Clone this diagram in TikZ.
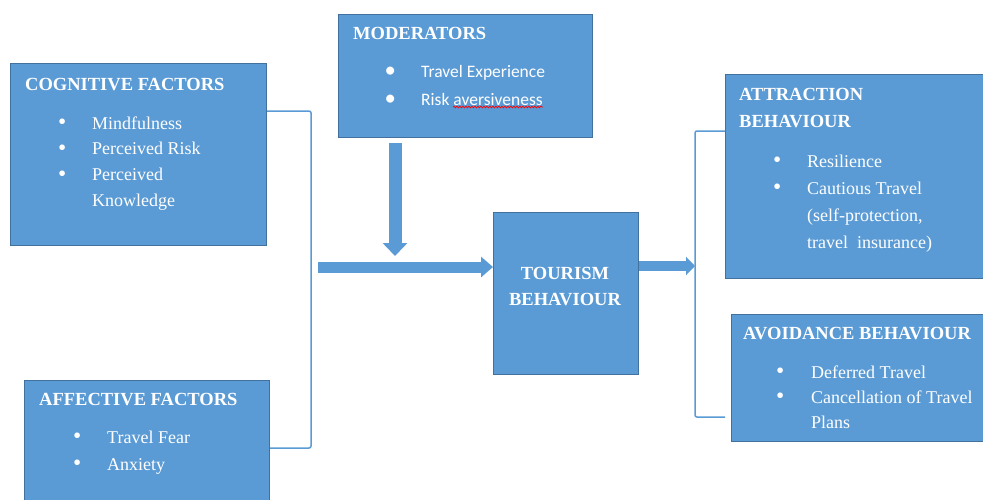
\documentclass[tikz,border=0pt]{standalone}
\usepackage{fontspec}
\setmainfont{Liberation Serif}
\newfontfamily\modfont{Carlito}
\usetikzlibrary{arrows.meta,decorations.pathmorphing}
\definecolor{boxblue}{HTML}{5B9BD5}
\definecolor{boxline}{HTML}{41719C}
\newcommand\bul{\makebox[0pt]{\raisebox{-0.1ex}{\scalebox{1.3}{\textbullet}}}}
\tikzset{
  box/.style={draw=boxline, fill=boxblue, line width=1pt, anchor=north west, inner sep=0pt},
  title/.style={anchor=base west, inner sep=0pt, text=white, font=\fontsize{18.5}{27}\selectfont\bfseries},
  items/.style={anchor=base west, inner sep=0pt, text=white, font=\fontsize{18}{26}\selectfont},
  bracket/.style={draw=boxblue, line width=1.5pt, rounded corners=2pt},
  flow/.style={draw=boxblue, line width=11pt, -{Triangle[width=20pt,length=12pt]}},
}

\begin{document}
\begin{tikzpicture}[x=1pt,y=-1pt]
			%%%%% START %%%%%
			\clip (0,0) rectangle (983,499);
			\fill[white] (0,0) rectangle (983,499);
			
			% boxes
			\node[box, minimum width=256, minimum height=182] (cog) at (10,63) {};
			\node[box, minimum width=254, minimum height=123] (mod) at (338,14) {};
			\node[box, minimum width=245, minimum height=140] (aff) at (24,380) {};
			\node[box, minimum width=145, minimum height=162] (tour) at (493,212) {};
			\node[box, minimum width=280, minimum height=204] (att) at (725,74) {};
			\node[box, minimum width=280, minimum height=127] (avo) at (731,314) {};
			
			% texts
			\node[title] (cogT) at (25,90) {COGNITIVE FACTORS};
			\node[items, font=\fontsize{18}{25.7}\selectfont] (cogL) at (62,129) {\begin{tabular}[t]{@{}p{30pt}@{}l@{}}
				\bul & Mindfulness\\ \bul & Perceived Risk\\ \bul & Perceived\\ & Knowledge\end{tabular}};
			
			\node[title] (modT) at (353,39) {MODERATORS};
			\node[items, font=\fontsize{17.5}{28}\selectfont\modfont] (modL) at (390,77) {\begin{tabular}[t]{@{}p{31pt}@{}l@{}}
				\bul & Travel Experience\\ \bul & Risk aversiveness\end{tabular}};
			\draw[red, line width=0.7pt, decorate, decoration={snake, amplitude=0.9pt, segment length=3pt}] (453,107) -- (543,107);
			
			\node[title] (affT) at (39,405) {AFFECTIVE FACTORS};
			\node[items, font=\fontsize{18}{27}\selectfont] (affL) at (77,443) {\begin{tabular}[t]{@{}p{30pt}@{}l@{}}
				\bul & Travel Fear\\ \bul & Anxiety\end{tabular}};
			
			\node[title, anchor=base] (tourT) at (565,279) {\begin{tabular}[t]{@{}c@{}}TOURISM\\[-1pt] BEHAVIOUR\end{tabular}};
			
			\node[title] (attT) at (739,100) {\begin{tabular}[t]{@{}l@{}}ATTRACTION\\ BEHAVIOUR\end{tabular}};
			\node[items, font=\fontsize{18}{27}\selectfont] (attL) at (777,167) {\begin{tabular}[t]{@{}p{30pt}@{}l@{}}
				\bul & Resilience\\ \bul & Cautious Travel\\ & (self-protection,\\ & travel\ \ insurance)\end{tabular}};
			
			\node[title] (avoT) at (743,339) {AVOIDANCE BEHAVIOUR};
			\node[items, font=\fontsize{18}{25}\selectfont] (avoL) at (780,378) {\begin{tabular}[t]{@{}p{31pt}@{}l@{}}
				\bul & Deferred Travel\\ \bul & Cancellation of Travel\\ & Plans\end{tabular}};
			
			% brackets
			\coordinate (lbtop) at (311,111);
			\coordinate (lbbot) at (311,448);
			\draw[bracket] (cog.east |- lbtop) -- (lbtop) -- (lbbot) -- (aff.east |- lbbot);
			\coordinate (rbtop) at (695,131);
			\coordinate (rbbot) at (695,417);
			\draw[bracket] (att.west |- rbtop) -- (rbtop) -- (rbbot) -- (att.west |- rbbot);
			
			% arrows
			\coordinate (dnA) at (395,256);
			\draw[flow, line width=13pt, -{Triangle[width=24pt,length=13pt]}] ([yshift=-5pt]mod.south -| dnA) -- (dnA);
			\coordinate (inA) at (318,267);
			\draw[flow] (inA) -- (tour.west |- inA);
			\coordinate (outA) at (695,266);
			\draw[flow, line width=9.5pt, -{Triangle[width=18pt,length=9pt]}] (tour.east |- outA) -- (outA);
			
			%%%%% END %%%%%
\end{tikzpicture}
\end{document}
